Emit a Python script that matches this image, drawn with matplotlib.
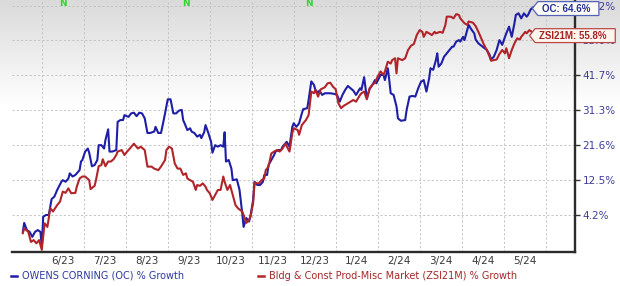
import numpy as np
import pandas as pd
import matplotlib
matplotlib.use("Agg")
import matplotlib.pyplot as plt
import matplotlib.dates as mdates
from matplotlib.path import Path
from matplotlib.lines import Line2D
from matplotlib.ticker import NullLocator
from matplotlib.transforms import blended_transform_factory

# ---------------- data ----------------
oc_dates = [
    "2023-05-18", "2023-05-19", "2023-05-21", "2023-05-23", "2023-05-25", "2023-05-27", "2023-05-29", "2023-05-31",
    "2023-06-01", "2023-06-02", "2023-06-04", "2023-06-06", "2023-06-07", "2023-06-08", "2023-06-10", "2023-06-12",
    "2023-06-15", "2023-06-16", "2023-06-18", "2023-06-20", "2023-06-21", "2023-06-23", "2023-06-25", "2023-06-28",
    "2023-06-29", "2023-06-30", "2023-07-02", "2023-07-04", "2023-07-05", "2023-07-07", "2023-07-09", "2023-07-11",
    "2023-07-12", "2023-07-14", "2023-07-16", "2023-07-17", "2023-07-19", "2023-07-20", "2023-07-22", "2023-07-25",
    "2023-07-26", "2023-07-28", "2023-07-30", "2023-07-31", "2023-08-03", "2023-08-05", "2023-08-07", "2023-08-09",
    "2023-08-11", "2023-08-13", "2023-08-15", "2023-08-17", "2023-08-19", "2023-08-22", "2023-08-23", "2023-08-25",
    "2023-08-27", "2023-08-28", "2023-08-30", "2023-09-01", "2023-09-03", "2023-09-05", "2023-09-07", "2023-09-09",
    "2023-09-11", "2023-09-12", "2023-09-13", "2023-09-15", "2023-09-17", "2023-09-18", "2023-09-20", "2023-09-22",
    "2023-09-24", "2023-09-25", "2023-09-27", "2023-09-28", "2023-09-30", "2023-10-02", "2023-10-03", "2023-10-05",
    "2023-10-07", "2023-10-09", "2023-10-11", "2023-10-12", "2023-10-13", "2023-10-15", "2023-10-17", "2023-10-18",
    "2023-10-21", "2023-10-23", "2023-10-25", "2023-10-26", "2023-10-28", "2023-10-30", "2023-10-31", "2023-11-02",
    "2023-11-03", "2023-11-05", "2023-11-07", "2023-11-09", "2023-11-10", "2023-11-12", "2023-11-13", "2023-11-15",
    "2023-11-17", "2023-11-18", "2023-11-20", "2023-11-22", "2023-11-23", "2023-11-26", "2023-11-28", "2023-11-30",
    "2023-12-01", "2023-12-03", "2023-12-05", "2023-12-07", "2023-12-08", "2023-12-11", "2023-12-12", "2023-12-14",
    "2023-12-16", "2023-12-17", "2023-12-19", "2023-12-20", "2023-12-22", "2023-12-24", "2023-12-28", "2023-12-31",
    "2024-01-02", "2024-01-04", "2024-01-06", "2024-01-08", "2024-01-10", "2024-01-12", "2024-01-14", "2024-01-16",
    "2024-01-19", "2024-01-20", "2024-01-22", "2024-01-24", "2024-01-26", "2024-01-28", "2024-01-30", "2024-01-31",
    "2024-02-03", "2024-02-05", "2024-02-06", "2024-02-08", "2024-02-09", "2024-02-10", "2024-02-12", "2024-02-14",
    "2024-02-15", "2024-02-17", "2024-02-20", "2024-02-21", "2024-02-23", "2024-02-25", "2024-02-27", "2024-02-29",
    "2024-03-02", "2024-03-04", "2024-03-06", "2024-03-08", "2024-03-09", "2024-03-11", "2024-03-13", "2024-03-14",
    "2024-03-15", "2024-03-17", "2024-03-19", "2024-03-21", "2024-03-23", "2024-03-25", "2024-03-26", "2024-03-28",
    "2024-03-30", "2024-03-31", "2024-04-02", "2024-04-03", "2024-04-05", "2024-04-06", "2024-04-08", "2024-04-10",
    "2024-04-11", "2024-04-13", "2024-04-16", "2024-04-19", "2024-04-21", "2024-04-22", "2024-04-24", "2024-04-26",
    "2024-04-28", "2024-04-30", "2024-05-02", "2024-05-03", "2024-05-05", "2024-05-07", "2024-05-09", "2024-05-10",
    "2024-05-12", "2024-05-14", "2024-05-16", "2024-05-18", "2024-05-19", "2024-05-21", "2024-05-23",
]
oc_growth = [
    0.4, 2.4, 0.8, 0.4, -0.7, 0.4, 0.8, 0.4,
    -2.8, 3.8, 4.2, 4.2, 6.1, 7.9, 8.5, 10.1,
    12.1, 12.5, 12.1, 12.9, 14.2, 13.4, 13.8, 15.0,
    17.2, 17.6, 19.8, 20.6, 19.5, 16.0, 16.3, 17.6,
    21.5, 21.5, 20.6, 22.9, 25.8, 19.8, 19.8, 20.2,
    27.9, 28.4, 28.4, 29.8, 29.3, 30.3, 30.5, 29.5,
    30.5, 30.3, 28.9, 24.8, 24.8, 25.2, 26.5, 24.8,
    24.8, 26.5, 30.3, 34.4, 34.4, 30.3, 30.3, 31.1,
    31.3, 28.4, 27.5, 25.6, 26.1, 25.2, 24.8, 23.8,
    24.3, 23.4, 25.0, 27.0, 24.8, 22.4, 19.5, 21.5,
    21.1, 21.5, 21.1, 25.0, 17.2, 17.6, 15.4, 12.5,
    12.7, 10.1, 4.6, 1.5, 3.5, 2.7, 3.8, 7.7,
    12.1, 11.3, 11.3, 12.1, 13.8, 13.8, 16.3, 17.6,
    18.9, 19.8, 20.2, 20.2, 21.1, 22.4, 21.1, 26.5,
    27.5, 26.5, 27.5, 30.3, 31.5, 31.8, 34.2, 39.8,
    38.7, 37.2, 36.4, 37.0, 35.7, 36.2, 36.2, 36.0,
    35.7, 33.7, 35.7, 37.2, 38.4, 37.7, 37.0, 35.7,
    37.7, 37.2, 41.1, 34.7, 37.4, 38.7, 40.2, 39.2,
    41.8, 41.8, 40.2, 43.9, 40.2, 36.2, 35.7, 32.3,
    28.9, 28.2, 28.4, 31.3, 35.2, 35.4, 35.2, 37.7,
    39.7, 40.2, 36.7, 40.7, 43.9, 43.4, 46.5, 48.7,
    44.4, 45.4, 47.6, 48.7, 49.8, 50.9, 50.9, 52.6,
    53.1, 52.6, 54.2, 53.1, 56.5, 58.3, 56.7, 55.4,
    53.3, 52.0, 50.9, 49.8, 48.2, 46.7, 47.6, 49.8,
    53.1, 51.5, 54.2, 55.4, 57.7, 54.2, 58.9, 61.8,
    62.4, 60.6, 62.4, 61.2, 61.8, 63.8, 64.6,
]

zsi_dates = [
    "2023-05-18", "2023-05-19", "2023-05-22", "2023-05-24", "2023-05-26", "2023-05-28", "2023-05-30", "2023-06-01",
    "2023-06-03", "2023-06-05", "2023-06-06", "2023-06-07", "2023-06-09", "2023-06-12", "2023-06-14", "2023-06-16",
    "2023-06-18", "2023-06-20", "2023-06-22", "2023-06-25", "2023-06-26", "2023-06-28", "2023-06-30", "2023-07-02",
    "2023-07-05", "2023-07-06", "2023-07-09", "2023-07-10", "2023-07-12", "2023-07-14", "2023-07-15", "2023-07-17",
    "2023-07-19", "2023-07-21", "2023-07-23", "2023-07-25", "2023-07-26", "2023-07-29", "2023-07-31", "2023-08-02",
    "2023-08-04", "2023-08-07", "2023-08-10", "2023-08-12", "2023-08-15", "2023-08-17", "2023-08-20", "2023-08-22",
    "2023-08-25", "2023-08-27", "2023-08-30", "2023-08-31", "2023-09-02", "2023-09-04", "2023-09-06", "2023-09-08",
    "2023-09-10", "2023-09-12", "2023-09-14", "2023-09-15", "2023-09-17", "2023-09-19", "2023-09-21", "2023-09-22",
    "2023-09-24", "2023-09-26", "2023-09-28", "2023-09-29", "2023-10-01", "2023-10-03", "2023-10-05", "2023-10-07",
    "2023-10-09", "2023-10-11", "2023-10-12", "2023-10-14", "2023-10-16", "2023-10-18", "2023-10-20", "2023-10-22",
    "2023-10-25", "2023-10-26", "2023-10-28", "2023-10-30", "2023-10-31", "2023-11-02", "2023-11-03", "2023-11-06",
    "2023-11-08", "2023-11-10", "2023-11-11", "2023-11-13", "2023-11-15", "2023-11-17", "2023-11-19", "2023-11-21",
    "2023-11-23", "2023-11-25", "2023-11-28", "2023-11-30", "2023-12-01", "2023-12-04", "2023-12-05", "2023-12-07",
    "2023-12-10", "2023-12-12", "2023-12-13", "2023-12-14", "2023-12-16", "2023-12-17", "2023-12-19", "2023-12-21",
    "2023-12-24", "2023-12-26", "2023-12-28", "2023-12-30", "2024-01-01", "2024-01-03", "2024-01-05", "2024-01-07",
    "2024-01-10", "2024-01-12", "2024-01-14", "2024-01-16", "2024-01-19", "2024-01-20", "2024-01-22", "2024-01-24",
    "2024-01-26", "2024-01-28", "2024-01-30", "2024-02-01", "2024-02-03", "2024-02-05", "2024-02-06", "2024-02-08",
    "2024-02-10", "2024-02-11", "2024-02-13", "2024-02-14", "2024-02-15", "2024-02-18", "2024-02-20", "2024-02-22",
    "2024-02-24", "2024-02-26", "2024-02-28", "2024-03-01", "2024-03-03", "2024-03-04", "2024-03-06", "2024-03-08",
    "2024-03-10", "2024-03-12", "2024-03-13", "2024-03-16", "2024-03-18", "2024-03-20", "2024-03-21", "2024-03-24",
    "2024-03-26", "2024-03-28", "2024-03-30", "2024-03-31", "2024-04-03", "2024-04-05", "2024-04-06", "2024-04-09",
    "2024-04-11", "2024-04-13", "2024-04-15", "2024-04-17", "2024-04-19", "2024-04-21", "2024-04-22", "2024-04-24",
    "2024-04-26", "2024-04-28", "2024-04-30", "2024-05-02", "2024-05-03", "2024-05-05", "2024-05-07", "2024-05-09",
    "2024-05-11", "2024-05-13", "2024-05-14", "2024-05-17", "2024-05-18", "2024-05-20", "2024-05-22",
]
zsi_growth = [
    0.1, 1.2, 0.4, -1.8, -1.4, -2.1, -1.4, -3.5,
    2.3, 1.5, 3.5, 5.8, 5.0, 6.5, 7.3, 9.7,
    9.4, 10.5, 9.3, 9.4, 10.9, 12.9, 13.4, 13.4,
    12.5, 10.3, 11.1, 12.5, 16.0, 16.3, 17.8, 16.0,
    17.2, 17.2, 17.8, 18.9, 19.8, 20.2, 18.9, 19.8,
    20.6, 21.9, 20.6, 21.1, 20.2, 15.9, 15.9, 15.4,
    15.0, 15.9, 17.6, 20.2, 21.1, 20.6, 16.7, 15.4,
    15.4, 13.8, 14.2, 12.9, 12.5, 12.1, 10.1, 11.3,
    11.1, 11.7, 10.9, 10.1, 9.3, 7.7, 8.9, 10.1,
    10.1, 13.4, 12.1, 10.1, 11.3, 8.9, 6.5, 5.7,
    5.0, 4.2, 2.4, 3.1, 3.8, 6.9, 11.8, 11.7,
    12.5, 12.9, 15.0, 15.9, 19.3, 19.8, 20.2, 19.8,
    20.6, 21.9, 19.8, 24.8, 26.1, 25.6, 24.3, 27.0,
    28.4, 29.8, 33.2, 36.7, 36.2, 37.2, 35.2, 37.4,
    38.0, 39.2, 39.4, 38.2, 37.4, 33.2, 31.8, 32.5,
    33.2, 33.7, 34.2, 33.7, 35.7, 36.2, 36.7, 34.4,
    37.7, 38.7, 39.4, 41.3, 42.9, 41.8, 42.9, 46.0,
    45.4, 46.5, 47.1, 42.3, 47.1, 46.5, 47.1, 49.8,
    51.2, 51.8, 54.8, 56.5, 55.9, 54.2, 55.9, 55.4,
    54.8, 55.9, 55.4, 55.9, 55.6, 58.3, 61.2, 61.2,
    60.6, 62.1, 61.8, 60.6, 58.9, 58.3, 59.5, 59.1,
    57.9, 55.9, 53.7, 51.5, 49.8, 47.6, 46.3, 46.5,
    46.7, 48.5, 49.8, 48.7, 50.4, 47.1, 49.8, 52.0,
    53.7, 53.3, 54.2, 55.9, 55.4, 56.5, 55.8,
]

month_labels = ["6/23", "7/23", "8/23", "9/23", "10/23", "11/23",
                "12/23", "1/24", "2/24", "3/24", "4/24", "5/24"]
y_tick_pct = [4.2, 12.5, 21.6, 31.3, 41.7, 53.0, 65.2]
news_dates = ["2023-06-16", "2023-09-14", "2023-12-12"]
oc_name = "OWENS CORNING (OC) % Growth"
zsi_name = "Bldg & Const Prod-Misc Market (ZSI21M) % Growth"

# ---------------- styling ----------------
W, H = 620, 286
BLUE = "#1e1ea6"
RED = "#b1252a"

fig = plt.figure(figsize=(W / 100, H / 100), dpi=100)

# background gradient (grey at the top fading to white)
bg = fig.add_axes([0, 0, 1, 1], zorder=-5)
bg.axis("off")
rows = np.arange(H)
shade = 0.855 + 0.145 * np.clip(rows / 105.0, 0, 1)
img = np.dstack([np.repeat(shade[:, None], 2, axis=1)] * 3)
bg.imshow(img, extent=[0, 1, 0, 1], aspect="auto", interpolation="bilinear")
bg.set_xlim(0, 1)
bg.set_ylim(0, 1)

ax = fig.add_axes([12 / W, 34 / H, 563 / W, 252 / H])
ax.patch.set_alpha(0)

# month-uniform time scale (each calendar month gets equal width)
month_starts = pd.date_range("2023-03-01", "2024-10-01", freq="MS")
ms_num = mdates.date2num(month_starts)
ms_idx = np.arange(len(ms_num), dtype=float)


def fwd(x):
    return np.interp(x, ms_num, ms_idx)


def inv(y):
    return np.interp(y, ms_idx, ms_num)


oc_x = mdates.date2num(pd.to_datetime(oc_dates))
zsi_x = mdates.date2num(pd.to_datetime(zsi_dates))
oc_y = 1 + np.array(oc_growth) / 100.0
zsi_y = 1 + np.array(zsi_growth) / 100.0

ax.plot(oc_x, oc_y, color=BLUE, lw=1.5, zorder=3, solid_joinstyle="round")
ax.plot(zsi_x, zsi_y, color=RED, lw=1.5, zorder=3.1, solid_joinstyle="round")

ax.set_xscale("function", functions=(fwd, inv))
ax.set_yscale("log")

x_left = mdates.date2num(pd.Timestamp("2023-05-10"))
x_right = mdates.date2num(pd.Timestamp("2024-06-22"))
ax.set_xlim(x_left, x_right)
ax.set_ylim(0.9605, 1.6722)

# x ticks: gridlines at month starts, labels mid-month
grid_months = pd.date_range("2023-06-01", "2024-06-01", freq="MS")
grid_num = mdates.date2num(grid_months)
mid_num = (grid_num[:-1] + grid_num[1:]) / 2
ax.set_xticks(grid_num, labels=[""] * len(grid_num))
ax.set_xticks(mid_num, labels=month_labels, minor=True)
ax.tick_params(axis="x", which="both", length=0, pad=3.2,
               labelsize=7.5, labelcolor="#3a3a3a")

# y ticks on the right
ax.yaxis.tick_right()
ax.set_yticks(1 + np.array(y_tick_pct) / 100.0,
              labels=[f"{v:.1f}%" for v in y_tick_pct])
ax.yaxis.set_minor_locator(NullLocator())
ax.tick_params(axis="y", which="major", length=3.5, width=1.0, color="#333333",
               labelsize=7.5, labelcolor="#3d3d99", pad=2)

ax.grid(True, which="major", axis="both", color="#c4c4c4",
        linestyle=(0, (2.2, 2.2)), linewidth=0.7)
ax.set_axisbelow(True)

for side in ("left", "top"):
    ax.spines[side].set_visible(False)
for side in ("bottom", "right"):
    ax.spines[side].set_color("#2b2b2b")
    ax.spines[side].set_linewidth(1.7)

# news markers
blend = blended_transform_factory(ax.transData, ax.transAxes)
for d in news_dates:
    ax.text(mdates.date2num(pd.Timestamp(d)), 1 - 4 / 252, "N", transform=blend,
            ha="center", va="center", color="#33d633", fontsize=6.5,
            fontweight="bold", clip_on=False, zorder=5)


# tag-shaped label boxes (pointing left toward line end)
def tag_box(x0, y0, width, height, mutation_size):
    pl = 0.4 * mutation_size
    pr = 0.9 * mutation_size
    pv = 0.2 * mutation_size
    x0 = x0 - pl
    y0 = y0 - pv
    w = width + pl + pr
    h = height + 2 * pv
    tip = 0.4 * h
    verts = [(x0, y0), (x0 + w, y0), (x0 + w, y0 + h), (x0, y0 + h),
             (x0 - tip, y0 + h / 2), (x0, y0)]
    return Path(verts, closed=True)


ax.annotate(f"OC: {oc_growth[-1]:.1f}%", xy=(oc_x[-1], oc_y[-1]),
            xytext=(6, -1), textcoords="offset points", ha="left", va="center",
            fontsize=7, fontweight="bold", family="Liberation Sans",
            color="#22309a", annotation_clip=False, zorder=8,
            bbox=dict(boxstyle=tag_box, fc="#fbfbf4", ec="#5464b4", lw=0.9))
ax.annotate(f"ZSI21M: {zsi_growth[-1]:.1f}%", xy=(zsi_x[-1], zsi_y[-1]),
            xytext=(5, -2.5), textcoords="offset points", ha="left", va="center",
            fontsize=7, fontweight="bold", family="Liberation Sans",
            color="#a82222", annotation_clip=False, zorder=8,
            bbox=dict(boxstyle=tag_box, fc="#fdf6ee", ec="#bb4848", lw=0.9))

# legend at the bottom
ly = 1 - 276 / H
fig.add_artist(Line2D([11 / W, 16.5 / W], [ly, ly], color=BLUE, lw=1.8,
                      transform=fig.transFigure))
fig.text(22 / W, ly, oc_name, color="#2b3aa0", fontsize=7, ha="left", va="center")
fig.add_artist(Line2D([258 / W, 263.5 / W], [ly, ly], color=RED, lw=1.8,
                      transform=fig.transFigure))
fig.text(269 / W, ly, zsi_name, color="#a52828", fontsize=7, ha="left", va="center")

fig.savefig("out.png", dpi=100)
